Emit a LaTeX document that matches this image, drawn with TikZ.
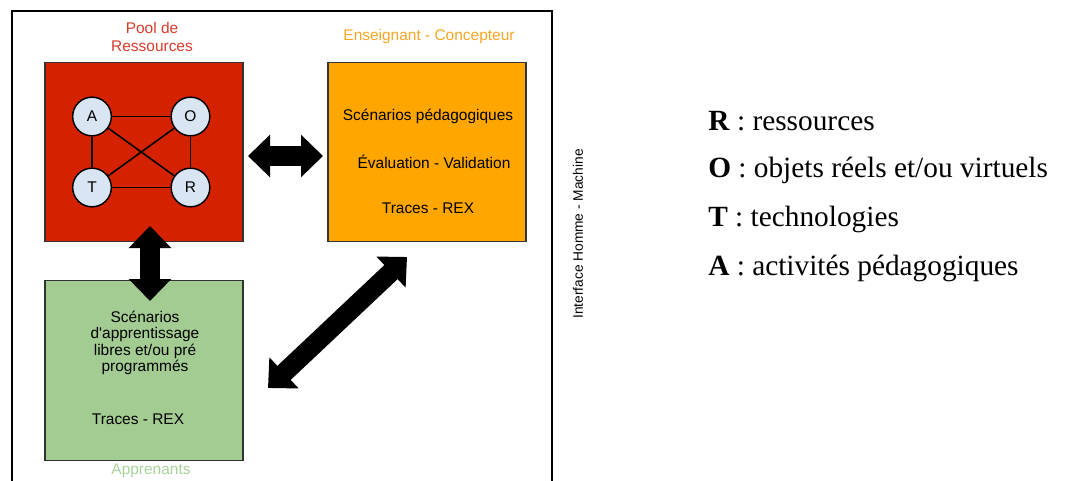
\documentclass[tikz,border=0pt]{standalone}
\usepackage{fontspec}
\setmainfont{Liberation Serif}
\setsansfont{Liberation Sans}
\usetikzlibrary{arrows.meta}
\definecolor{poolred}{RGB}{212,33,0}
\definecolor{ensorange}{RGB}{255,166,0}
\definecolor{apgreen}{RGB}{162,204,146}
\definecolor{circblue}{RGB}{217,229,242}
\definecolor{lblred}{RGB}{217,58,43}
\definecolor{lblorange}{RGB}{245,166,35}
\definecolor{lblgreen}{RGB}{168,210,154}
\definecolor{boxedge}{RGB}{51,51,51}
\tikzset{
  bigbox/.style={draw=boxedge, line width=1.1pt, minimum width=148.5pt, minimum height=134pt, inner sep=0pt},
  res/.style={circle, draw=black, line width=1.1pt, fill=circblue, minimum size=29pt, inner sep=0pt, font=\sffamily\fontsize{11.6}{12.4}\selectfont},
  link/.style={line width=1.2pt, black},
  sanslbl/.style={font=\sffamily\fontsize{11.6}{12.4}\selectfont, inner sep=0pt, align=center},
  titlelbl/.style={font=\sffamily\fontsize{11.6}{13.5}\selectfont, inner sep=0pt, align=center},
  legend/.style={font=\fontsize{22}{26}\selectfont, anchor=west, inner sep=0pt},
  fatarrow/.style={line width=14.5pt, black, {Triangle[length=16.5pt, width=31pt]}-{Triangle[length=16.5pt, width=31pt]}}
}
\begin{document}
\begin{tikzpicture}[x=0.75pt, y=-0.75pt]
\useasboundingbox (0,0) rectangle (1067,481);
% outer frame
\draw[line width=1.1pt, black] (12,495) -- (12,11) -- (552,11) -- (552,495);

% boxes
\node[bigbox, fill=poolred] (pool) at (144,152) {};
\node[bigbox, fill=ensorange] (ens) at (427,152) {};
\node[bigbox, fill=apgreen, minimum height=135pt] (app) at (144,370.5) {};

% titles
\node[titlelbl, text=lblred] (pooltitle) at (152,37) {Pool de\\Ressources};
\node[titlelbl, text=lblorange] (enstitle) at (429,37) {Enseignant - Concepteur};
\node[titlelbl, text=lblgreen] (apptitle) at (151,471) {Apprenants};

% resource graph
\node[res] (A) at (92,116.5) {A};
\node[res] (O) at (190.5,116.5) {O};
\node[res] (T) at (92,187.5) {T};
\node[res] (R) at (190.5,187.5) {R};
\draw[link] (A) -- (O);
\draw[link] (A) -- (T);
\draw[link] (O) -- (R);
\draw[link] (T) -- (R);
\draw[link] (A) -- (R);
\draw[link] (O) -- (T);

% orange box text
\node[sanslbl] (ens1) at (428,116) {Scénarios pédagogiques};
\node[sanslbl] (ens2) at (434,162) {Évaluation - Validation};
\node[sanslbl] (ens3) at (428,208) {Traces - REX};

% green box text
\node[sanslbl] (app1) at (145,343) {Scénarios\\d\textquotesingle apprentissage\\libres et/ou pré\\programmés};
\node[sanslbl] (app2) at (138,419) {Traces - REX};

% vertical label
\node[font=\sffamily\fontsize{10.3}{12}\selectfont, rotate=90, inner sep=0pt] (ihm) at (578,234) {Interface Homme - Machine};

% arrows
\coordinate (hA) at (248,156);
\coordinate (hB) at (323,156);
\coordinate (vA) at (150,226);
\coordinate (vB) at (150,301);
\coordinate (dA) at (407,257);
\coordinate (dB) at (268,388);
\draw[fatarrow] (hA) -- (hB);
\draw[fatarrow] (vA) -- (vB);
\draw[fatarrow] (dA) -- (dB);

% legend
\node[legend] (lR) at (708,121) {\textbf{R} : ressources};
\node[legend] (lO) at (708,170) {\textbf{O} : objets réels et/ou virtuels};
\node[legend] (lT) at (708,219) {\textbf{T} : technologies};
\node[legend] (lA) at (708,268) {\textbf{A} : activités pédagogiques};
\end{tikzpicture}
\end{document}
